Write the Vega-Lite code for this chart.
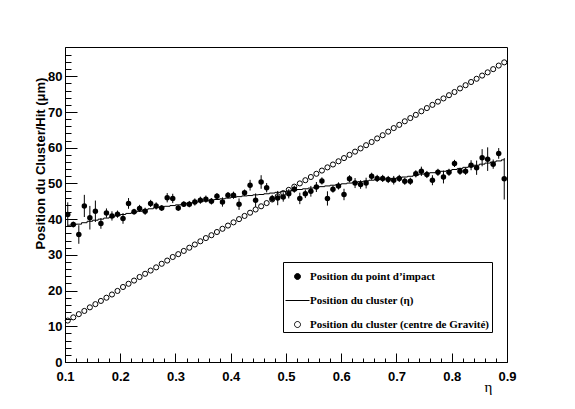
{
  "$schema": "https://vega.github.io/schema/vega-lite/v6.json",
  "autosize": {"type": "none"},
  "width": 442,
  "height": 315,
  "padding": {"left": 65, "top": 47, "right": 68, "bottom": 47},
  "background": "white",
  "config": {
    "view": {"stroke": "black", "strokeWidth": 1},
    "axis": {
      "grid": false,
      "domainColor": "black",
      "tickColor": "black",
      "labelColor": "black",
      "titleColor": "black",
      "labelFont": "Liberation Sans",
      "labelFontWeight": "bold",
      "labelFontSize": 13,
      "titleFont": "Liberation Sans"
    }
  },
  "data": {
    "values": [
      {"eta": 0.105, "hit": 41.3, "err": 3.4, "clu": 38.3, "cog": 11.6},
      {"eta": 0.115, "hit": 38.5, "err": 0.8, "clu": 38.4, "cog": 12.5},
      {"eta": 0.125, "hit": 35.7, "err": 2.6, "clu": 38.6, "cog": 13.4},
      {"eta": 0.135, "hit": 43.7, "err": 3.1, "clu": 39.0, "cog": 14.3},
      {"eta": 0.145, "hit": 40.4, "err": 3.3, "clu": 39.4, "cog": 15.3},
      {"eta": 0.155, "hit": 42.2, "err": 3.0, "clu": 39.7, "cog": 16.2},
      {"eta": 0.165, "hit": 38.8, "err": 1.5, "clu": 40.0, "cog": 17.1},
      {"eta": 0.175, "hit": 41.7, "err": 1.3, "clu": 40.3, "cog": 18.0},
      {"eta": 0.185, "hit": 40.9, "err": 1.3, "clu": 40.6, "cog": 18.9},
      {"eta": 0.195, "hit": 41.4, "err": 1.0, "clu": 41.0, "cog": 19.9},
      {"eta": 0.205, "hit": 40.2, "err": 1.5, "clu": 41.3, "cog": 21.0},
      {"eta": 0.215, "hit": 44.4, "err": 1.5, "clu": 41.6, "cog": 21.9},
      {"eta": 0.225, "hit": 42.1, "err": 0.8, "clu": 41.9, "cog": 22.8},
      {"eta": 0.235, "hit": 43.0, "err": 1.0, "clu": 42.2, "cog": 23.8},
      {"eta": 0.245, "hit": 42.2, "err": 1.0, "clu": 42.6, "cog": 24.7},
      {"eta": 0.255, "hit": 44.4, "err": 1.0, "clu": 42.9, "cog": 25.6},
      {"eta": 0.265, "hit": 43.7, "err": 1.0, "clu": 43.2, "cog": 26.5},
      {"eta": 0.275, "hit": 43.1, "err": 0.8, "clu": 43.4, "cog": 27.5},
      {"eta": 0.285, "hit": 46.0, "err": 1.3, "clu": 43.6, "cog": 28.4},
      {"eta": 0.295, "hit": 45.8, "err": 1.3, "clu": 43.8, "cog": 29.4},
      {"eta": 0.305, "hit": 43.1, "err": 0.8, "clu": 44.0, "cog": 30.2},
      {"eta": 0.315, "hit": 44.2, "err": 0.8, "clu": 44.3, "cog": 31.1},
      {"eta": 0.325, "hit": 44.2, "err": 0.9, "clu": 44.5, "cog": 32.0},
      {"eta": 0.335, "hit": 44.8, "err": 1.0, "clu": 44.7, "cog": 32.9},
      {"eta": 0.345, "hit": 45.3, "err": 1.0, "clu": 44.9, "cog": 33.8},
      {"eta": 0.355, "hit": 45.6, "err": 1.0, "clu": 45.1, "cog": 34.7},
      {"eta": 0.365, "hit": 45.0, "err": 0.9, "clu": 45.3, "cog": 35.5},
      {"eta": 0.375, "hit": 46.4, "err": 0.9, "clu": 45.5, "cog": 36.4},
      {"eta": 0.385, "hit": 44.8, "err": 1.3, "clu": 45.7, "cog": 37.3},
      {"eta": 0.395, "hit": 46.7, "err": 0.9, "clu": 45.9, "cog": 38.2},
      {"eta": 0.405, "hit": 46.7, "err": 1.0, "clu": 46.1, "cog": 39.1},
      {"eta": 0.415, "hit": 44.2, "err": 1.6, "clu": 46.3, "cog": 40.0},
      {"eta": 0.425, "hit": 47.4, "err": 0.9, "clu": 46.5, "cog": 40.9},
      {"eta": 0.435, "hit": 49.5, "err": 1.5, "clu": 46.6, "cog": 41.8},
      {"eta": 0.445, "hit": 45.3, "err": 1.9, "clu": 46.8, "cog": 42.7},
      {"eta": 0.455, "hit": 50.4, "err": 1.9, "clu": 46.9, "cog": 43.6},
      {"eta": 0.465, "hit": 48.8, "err": 1.3, "clu": 47.1, "cog": 44.5},
      {"eta": 0.475, "hit": 45.8, "err": 1.0, "clu": 47.3, "cog": 45.5},
      {"eta": 0.485, "hit": 45.9, "err": 2.0, "clu": 47.5, "cog": 46.4},
      {"eta": 0.495, "hit": 46.2, "err": 1.3, "clu": 47.7, "cog": 47.3},
      {"eta": 0.505, "hit": 47.1, "err": 1.3, "clu": 47.9, "cog": 48.2},
      {"eta": 0.515, "hit": 48.4, "err": 1.0, "clu": 48.1, "cog": 49.1},
      {"eta": 0.525, "hit": 45.8, "err": 1.6, "clu": 48.3, "cog": 50.0},
      {"eta": 0.535, "hit": 47.1, "err": 1.2, "clu": 48.5, "cog": 50.9},
      {"eta": 0.545, "hit": 47.8, "err": 1.5, "clu": 48.7, "cog": 51.8},
      {"eta": 0.555, "hit": 49.0, "err": 1.4, "clu": 48.9, "cog": 52.7},
      {"eta": 0.565, "hit": 50.7, "err": 1.0, "clu": 49.1, "cog": 53.6},
      {"eta": 0.575, "hit": 45.8, "err": 2.0, "clu": 49.3, "cog": 54.5},
      {"eta": 0.585, "hit": 48.4, "err": 1.0, "clu": 49.5, "cog": 55.3},
      {"eta": 0.595, "hit": 49.3, "err": 1.0, "clu": 49.7, "cog": 56.2},
      {"eta": 0.605, "hit": 46.9, "err": 1.6, "clu": 49.9, "cog": 57.1},
      {"eta": 0.615, "hit": 51.3, "err": 1.0, "clu": 50.1, "cog": 58.0},
      {"eta": 0.625, "hit": 50.1, "err": 1.4, "clu": 50.3, "cog": 58.9},
      {"eta": 0.635, "hit": 49.7, "err": 1.2, "clu": 50.5, "cog": 59.8},
      {"eta": 0.645, "hit": 50.1, "err": 1.5, "clu": 50.7, "cog": 60.7},
      {"eta": 0.655, "hit": 52.0, "err": 1.0, "clu": 50.9, "cog": 61.6},
      {"eta": 0.665, "hit": 51.4, "err": 1.0, "clu": 51.1, "cog": 62.6},
      {"eta": 0.675, "hit": 51.4, "err": 1.0, "clu": 51.2, "cog": 63.5},
      {"eta": 0.685, "hit": 51.1, "err": 1.0, "clu": 51.3, "cog": 64.5},
      {"eta": 0.695, "hit": 50.9, "err": 1.2, "clu": 51.4, "cog": 65.5},
      {"eta": 0.705, "hit": 51.4, "err": 1.0, "clu": 51.6, "cog": 66.4},
      {"eta": 0.715, "hit": 50.6, "err": 1.0, "clu": 51.8, "cog": 67.4},
      {"eta": 0.725, "hit": 50.6, "err": 1.0, "clu": 52.0, "cog": 68.3},
      {"eta": 0.735, "hit": 52.7, "err": 1.0, "clu": 52.3, "cog": 69.2},
      {"eta": 0.745, "hit": 53.4, "err": 1.3, "clu": 52.6, "cog": 70.2},
      {"eta": 0.755, "hit": 52.5, "err": 1.0, "clu": 52.8, "cog": 71.1},
      {"eta": 0.765, "hit": 50.9, "err": 1.4, "clu": 53.0, "cog": 72.0},
      {"eta": 0.775, "hit": 53.1, "err": 1.0, "clu": 53.2, "cog": 72.9},
      {"eta": 0.785, "hit": 51.8, "err": 1.8, "clu": 53.4, "cog": 73.8},
      {"eta": 0.795, "hit": 53.1, "err": 1.0, "clu": 53.6, "cog": 74.7},
      {"eta": 0.805, "hit": 55.6, "err": 1.0, "clu": 53.9, "cog": 75.6},
      {"eta": 0.815, "hit": 53.4, "err": 1.0, "clu": 54.2, "cog": 76.6},
      {"eta": 0.825, "hit": 53.4, "err": 1.0, "clu": 54.5, "cog": 77.5},
      {"eta": 0.835, "hit": 55.1, "err": 1.4, "clu": 54.8, "cog": 78.4},
      {"eta": 0.845, "hit": 54.4, "err": 2.0, "clu": 55.1, "cog": 79.3},
      {"eta": 0.855, "hit": 57.2, "err": 2.4, "clu": 55.4, "cog": 80.2},
      {"eta": 0.865, "hit": 56.8, "err": 3.3, "clu": 55.7, "cog": 81.1},
      {"eta": 0.875, "hit": 55.4, "err": 1.3, "clu": 56.0, "cog": 82.0},
      {"eta": 0.885, "hit": 58.4, "err": 1.5, "clu": 56.3, "cog": 83.0},
      {"eta": 0.895, "hit": 51.3, "err": 5.8, "clu": 56.6, "cog": 83.9}
    ]
  },
  "layer": [
    {
      "mark": {"type": "line", "interpolate": "step", "color": "black", "strokeWidth": 1},
      "encoding": {
        "x": {
          "field": "eta", "type": "quantitative",
          "scale": {"domain": [0.1, 0.9], "nice": false, "zero": false},
          "axis": {
            "orient": "bottom",
            "values": [0.1, 0.2, 0.3, 0.4, 0.5, 0.6, 0.7, 0.8, 0.9],
            "format": ".1f",
            "tickSize": -9,
            "labelPadding": 17,
            "labelFlush": false,
            "title": "η",
            "titleFont": "Liberation Serif",
            "titleFontWeight": "normal",
            "titleFontSize": 15,
            "titleAnchor": null,
            "titleAlign": "center",
            "titleBaseline": "alphabetic",
            "titleX": 423,
            "titleY": 29
          }
        },
        "y": {
          "field": "clu", "type": "quantitative",
          "scale": {"domain": [0, 88.2], "nice": false},
          "axis": {
            "orient": "left",
            "values": [0, 10, 20, 30, 40, 50, 60, 70, 80],
            "format": "d",
            "tickSize": -12,
            "labelPadding": 15,
            "labelFlush": false,
            "title": "Position du Cluster/Hit (μm)",
            "titleFontWeight": "bold",
            "titleFontSize": 13,
            "titleAnchor": null,
            "titleAlign": "center",
            "titleBaseline": "alphabetic",
            "titleAngle": -90,
            "titleX": -21,
            "titleY": 116
          }
        },
        "color": {
          "datum": "Position du cluster (η)",
          "scale": {
            "domain": ["Position du point d’impact", "Position du cluster (η)", "Position du cluster (centre de Gravité)"],
            "range": ["black", "black", "black"]
          },
          "legend": {
            "orient": "none",
            "legendX": 218,
            "legendY": 215,
            "title": null,
            "strokeColor": "black",
            "fillColor": "white",
            "padding": 2,
            "rowPadding": 6,
            "symbolSize": 576,
            "labelOffset": 0,
            "labelFont": "Liberation Serif",
            "labelFontWeight": "bold",
            "labelFontSize": 11,
            "labelColor": "black",
            "labelLimit": 400,
            "encode": {
              "symbols": {
                "update": {
                  "shape": {"signal": "indexof(datum.label, '(η)') >= 0 ? 'M-1,0H1' : 'M-0.25,0A0.25,0.25,0,1,1,0.25,0A0.25,0.25,0,1,1,-0.25,0'"},
                  "fill": {"value": "black"},
                  "fillOpacity": {"signal": "indexof(datum.label, 'impact') >= 0 ? 1 : 0"},
                  "stroke": {"value": "black"},
                  "strokeWidth": {"value": 1},
                  "opacity": {"value": 1}
                }
              }
            }
          }
        }
      }
    },
    {
      "mark": {"type": "errorbar", "color": "black", "thickness": 1},
      "encoding": {
        "x": {"field": "eta", "type": "quantitative", "axis": null},
        "y": {"field": "hit", "type": "quantitative", "axis": null},
        "yError": {"field": "err"}
      }
    },
    {
      "mark": {"type": "point", "filled": true, "shape": "circle", "size": 30, "opacity": 1},
      "encoding": {
        "x": {"field": "eta", "type": "quantitative", "axis": null},
        "y": {"field": "hit", "type": "quantitative", "axis": null},
        "color": {"datum": "Position du point d’impact"}
      }
    },
    {
      "mark": {"type": "point", "filled": false, "shape": "circle", "size": 26, "strokeWidth": 1, "opacity": 1},
      "encoding": {
        "x": {
          "field": "eta", "type": "quantitative",
          "axis": {
            "orient": "bottom",
            "values": [0.12, 0.14, 0.16, 0.18, 0.22, 0.24, 0.26, 0.28, 0.32, 0.34, 0.36, 0.38, 0.42, 0.44, 0.46, 0.48, 0.52, 0.54, 0.56, 0.58, 0.62, 0.64, 0.66, 0.68, 0.72, 0.74, 0.76, 0.78, 0.82, 0.84, 0.86, 0.88],
            "labels": false,
            "domain": false,
            "tickSize": -4,
            "title": null
          }
        },
        "y": {
          "field": "cog", "type": "quantitative",
          "axis": {
            "orient": "left",
            "values": [2, 4, 6, 8, 12, 14, 16, 18, 22, 24, 26, 28, 32, 34, 36, 38, 42, 44, 46, 48, 52, 54, 56, 58, 62, 64, 66, 68, 72, 74, 76, 78, 82, 84, 86],
            "labels": false,
            "domain": false,
            "tickSize": -6,
            "title": null
          }
        },
        "color": {"datum": "Position du cluster (centre de Gravité)"}
      }
    }
  ],
  "resolve": {"axis": {"x": "independent", "y": "independent"}}
}
